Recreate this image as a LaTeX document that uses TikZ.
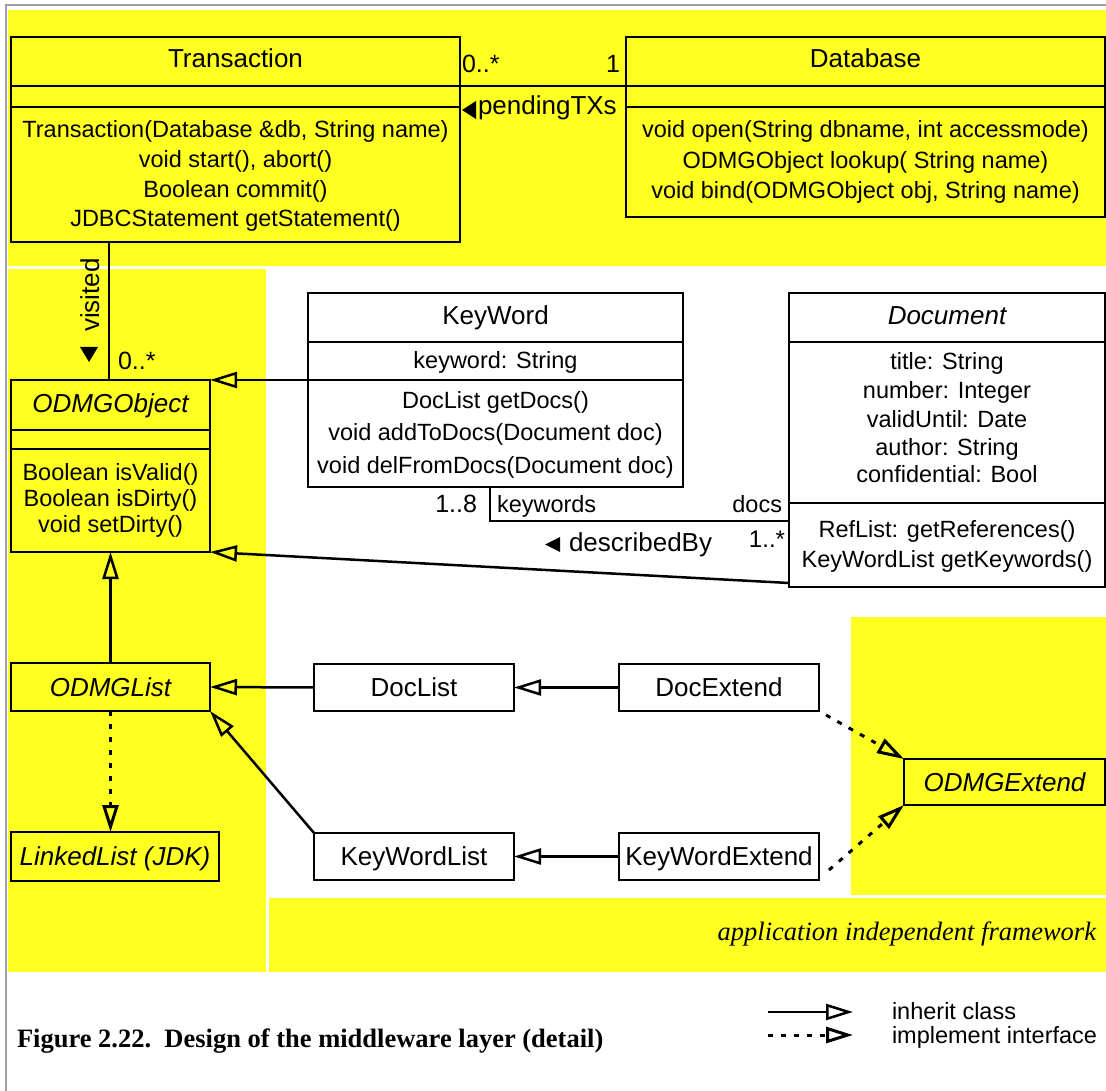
\documentclass[tikz,border=0pt]{standalone}
\usepackage{fontspec}
\setmainfont{Liberation Serif}
\newfontfamily\umlfont{Liberation Sans}
\usetikzlibrary{arrows.meta}
\definecolor{bgyellow}{RGB}{255,255,34}
\definecolor{framegrey}{RGB}{160,160,160}
\begin{document}
\begin{tikzpicture}[x=1pt,y=-1pt,
  every node/.style={inner sep=0pt,outer sep=0pt},
  % member lines, role names and legend
  txt/.style={font=\umlfont\fontsize{23.5}{28}\selectfont, anchor=base},
  % class names, association names and multiplicities
  big/.style={font=\umlfont\fontsize{26}{30}\selectfont, anchor=base},
  ibig/.style={font=\umlfont\itshape\fontsize{26}{30}\selectfont, anchor=base},
  mult/.style={font=\umlfont\fontsize{25}{30}\selectfont},
  classbox/.style={draw, line width=2.8pt, font=\umlfont\fontsize{26}{30}\selectfont,
    text height=18.6pt, text depth=0pt},
  abstractbox/.style={font=\umlfont\itshape\fontsize{26}{30}\selectfont},
  ybox/.style={classbox, fill=bgyellow},
  wbox/.style={classbox, fill=white},
  divider/.style={line width=2.8pt},
  conn/.style={line width=2.5pt},
  inh/.style={conn, -{Triangle[open,length=27pt,width=16pt]}},
  impl/.style={line width=3pt, dash pattern=on 5pt off 8pt, -{Triangle[open,length=27pt,width=16pt]}},
]
\useasboundingbox (0,0) rectangle (1106,1091);

% yellow package areas
\fill[bgyellow] (8,10) rectangle (1106,266);
\fill[bgyellow] (8,269) rectangle (266,972);
\fill[bgyellow] (851,617) rectangle (1106,895);
\fill[bgyellow] (269,898) rectangle (1106,972);
% page frame
\draw[framegrey, line width=2pt] (6,1091) -- (6,5) -- (1106,5);

% ---------- Transaction ----------
\node[ybox, minimum width=449pt, minimum height=205pt] (tr) at (235.5,139.5) {};
\draw[divider] (11,86) -- (460,86);
\draw[divider] (11,107) -- (460,107);
\node[big] (trname) at (235.5,68) {Transaction};
\node[txt] (trop1) at (235.5,138) {Transaction(Database \&db, String name)};
\node[txt] (trop2) at (235.5,168) {void start(), abort()};
\node[txt] (trop3) at (235.5,198) {Boolean commit()};
\node[txt] (trop4) at (235.5,227) {JDBCStatement getStatement()};

% ---------- Database ----------
\node[ybox, minimum width=479pt, minimum height=180pt] (db) at (865.5,127) {};
\draw[divider] (626,86) -- (1105,86);
\draw[divider] (626,107) -- (1105,107);
\node[big] (dbname) at (865.5,68) {Database};
\node[txt] (dbop1) at (865.5,138) {void open(String dbname, int accessmode)};
\node[txt] (dbop2) at (865.5,168.5) {ODMGObject lookup( String name)};
\node[txt] (dbop3) at (865.5,199) {void bind(ODMGObject obj, String name)};

% pendingTXs association
\coordinate (txlink) at (0,86);
\draw[conn] (tr.east |- txlink) -- (db.west |- txlink);
\node[mult, anchor=base west] (mtx) at (462,73) {0..*};
\node[mult, anchor=base east] (mdb) at (620,73) {1};
\fill (462,110) -- (476,101) -- (476,119) -- cycle;
\node[big, anchor=base west] (ptx) at (478,115) {pendingTXs};

% ---------- ODMGObject ----------
\node[ybox, minimum width=199pt, minimum height=172pt] (odo) at (110.5,466) {};
\draw[divider] (11,430) -- (210,430);
\draw[divider] (11,449) -- (210,449);
\node[ibig] (odoname) at (110.5,412) {ODMGObject};
\node[txt] (odoop1) at (110.5,480) {Boolean isValid()};
\node[txt] (odoop2) at (110.5,506) {Boolean isDirty()};
\node[txt] (odoop3) at (110.5,532) {void setDirty()};

% visited association
\coordinate (visx) at (109,0);
\draw[conn] (tr.south -| visx) -- (odo.north -| visx);
\node[big, rotate=90] (vis) at (99,295) {visited};
\fill (80,347) -- (98,347) -- (89,362) -- cycle;
\node[mult, anchor=base west] (modo) at (118,370) {0..*};

% ---------- KeyWord ----------
\node[wbox, minimum width=375pt, minimum height=194pt] (kw) at (495.5,390) {};
\draw[divider] (308,342) -- (683,342);
\draw[divider] (308,380) -- (683,380);
\node[big] (kwname) at (495.5,325) {KeyWord};
\node[txt] (kwat1) at (495.5,368) {keyword: String};
\node[txt] (kwop1) at (495.5,408) {DocList getDocs()};
\node[txt] (kwop2) at (495.5,440) {void addToDocs(Document doc)};
\node[txt] (kwop3) at (495.5,473) {void delFromDocs(Document doc)};

% ---------- Document ----------
\node[wbox, minimum width=316pt, minimum height=294pt] (doc) at (947,440) {};
\draw[divider] (789,342) -- (1105,342);
\draw[divider] (789,503) -- (1105,503);
\node[ibig] (docname) at (947,325) {Document};
\node[txt] (docat1) at (947,370) {title: String};
\node[txt] (docat2) at (947,398) {number: Integer};
\node[txt] (docat3) at (947,427) {validUntil: Date};
\node[txt] (docat4) at (947,455) {author: String};
\node[txt] (docat5) at (947,482) {confidential: Bool};
\node[txt] (docop1) at (947,537) {RefList: getReferences()};
\node[txt] (docop2) at (947,567) {KeyWordList getKeywords()};

% describedBy association
\coordinate (kwbend) at (490,521);
\draw[conn] (kw.south -| kwbend) -- (kwbend) -- (doc.west |- kwbend);
\node[mult, anchor=base east] (mkw) at (477,512) {1..8};
\node[txt, anchor=base west] (rkw) at (497,512) {keywords};
\node[txt, anchor=base east] (rdoc) at (782,512) {docs};
\node[font=\umlfont\fontsize{24}{28}\selectfont, anchor=base east] (mdoc) at (785,547) {1..*};
\fill (545,544.5) -- (560,537) -- (560,552) -- cycle;
\node[big, anchor=base west] (dby) at (569,551) {describedBy};

% inheritance into ODMGObject
\draw[inh] (kw.west |- odo.north) -- (odo.north east);
\draw[inh] ([yshift=4pt]doc.south west) -- (odo.south east);

% ---------- lists and extends ----------
\node[ybox, abstractbox, minimum width=199pt, minimum height=48pt] (olist) at (110.5,687) {ODMGList};
\node[ybox, abstractbox, minimum width=208pt, minimum height=49pt] (llist) at (115,856.5) {LinkedList (JDK)};
\node[wbox, minimum width=200pt, minimum height=47pt] (dlist) at (414,687.5) {DocList};
\node[wbox, minimum width=200pt, minimum height=47pt] (kwlist) at (414,856.5) {KeyWordList};
\node[wbox, minimum width=200pt, minimum height=47pt] (dext) at (719,687.5) {DocExtend};
\node[wbox, minimum width=200pt, minimum height=47pt] (kwext) at (719,856.5) {KeyWordExtend};
\node[ybox, abstractbox, minimum width=201pt, minimum height=46pt] (oext) at (1004.5,782) {ODMGExtend};

\draw[inh] (olist.north) -- (odo.south);
\draw[impl] (olist.south) -- (olist.south |- llist.north);
\draw[inh] (dlist.west) -- (olist.east);
\draw[inh] (kwlist.north west) -- (olist.south east);
\draw[inh] (dext.west) -- (dlist.east);
\draw[inh] (kwext.west) -- (kwlist.east);
\draw[impl] ([xshift=7pt,yshift=-4pt]dext.south east) -- (oext.north west);
\draw[impl] ([xshift=10pt,yshift=10pt]kwext.south east) -- (oext.south west);

% package label
\node[anchor=base east, font=\itshape\fontsize{26.5}{30}\selectfont] (fw) at (1096,940) {application independent framework};

% ---------- caption and legend ----------
\node[anchor=base west, font=\bfseries\fontsize{26.5}{30}\selectfont] (cap) at (17,1047) {Figure 2.22.\ \ Design of the middleware layer (detail)};
\coordinate (lgAa) at (768,1012);
\coordinate (lgAb) at (853,1012);
\coordinate (lgBa) at (768,1035);
\coordinate (lgBb) at (853,1035);
\draw[inh] (lgAa) -- (lgAb);
\draw[impl] (lgBa) -- (lgBb);
\node[txt, anchor=base west] (lgt1) at (892,1019) {inherit class};
\node[txt, anchor=base west] (lgt2) at (892,1043) {implement interface};
\end{tikzpicture}
\end{document}
